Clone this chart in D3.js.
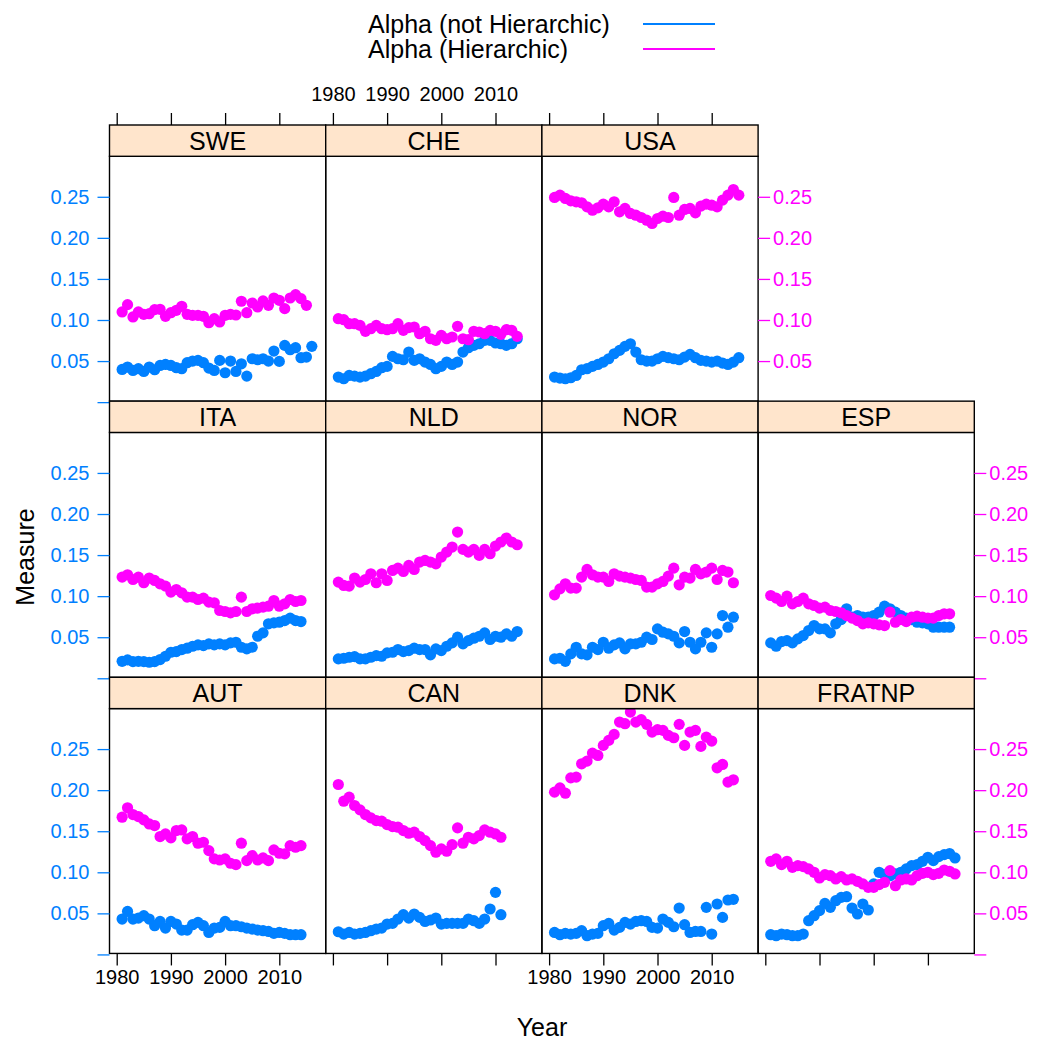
<!DOCTYPE html>
<html>
<head>
<meta charset="utf-8">
<script src="https://cdn.jsdelivr.net/npm/d3@7"></script>
<style>
  body { margin: 0; background: #fff; }
  svg { display: block; }
  text { font-family: "Liberation Sans", Arial, Helvetica, sans-serif; }
</style>
</head>
<body>
<svg id="chart" width="1044" height="1040"></svg>
<script>
// ---- data: yearly alpha estimates per country, series start in 1981 ----
const startYear = 1981;
const seriesNames = ["Alpha (not Hierarchic)", "Alpha (Hierarchic)"];
const seriesColors = ["#0080ff", "#ff00ff"];
const xTicks = [1980, 1990, 2000, 2010];
const yTicks = [0, 0.05, 0.10, 0.15, 0.20, 0.25];

// panel grid, top row first
const layoutRows = [
  ["SWE", "CHE", "USA"],
  ["ITA", "NLD", "NOR", "ESP"],
  ["AUT", "CAN", "DNK", "FRATNP"]
];

const sweNotHier = [0.0398,0.0427,0.0386,0.0407,0.0374,0.0427,0.0394,0.0447,0.0459,0.0447,0.0419,0.0407,0.0480,0.0500,0.0508,0.0480,0.0415,0.0386,0.0508,0.0358,0.0500,0.0374,0.0467,0.0317,0.0528,0.0516,0.0528,0.0500,0.0622,0.0496,0.0691,0.0638,0.0663,0.0541,0.0549,0.0679];
const sweHier = [0.1098,0.1187,0.1037,0.1098,0.1069,0.1077,0.1126,0.1130,0.1045,0.1089,0.1118,0.1167,0.1069,0.1057,0.1057,0.1045,0.0967,0.1016,0.0976,0.1057,0.1069,0.1061,0.1228,0.1089,0.1207,0.1159,0.1232,0.1179,0.1268,0.1240,0.1138,0.1268,0.1309,0.1260,0.1179];

const cheNotHier = [0.0305,0.0285,0.0325,0.0317,0.0305,0.0317,0.0346,0.0374,0.0419,0.0435,0.0557,0.0528,0.0516,0.0610,0.0508,0.0528,0.0488,0.0459,0.0407,0.0435,0.0488,0.0459,0.0488,0.0610,0.0663,0.0691,0.0711,0.0752,0.0752,0.0720,0.0711,0.0691,0.0711,0.0772];
const cheHier = [0.1016,0.1004,0.0955,0.0955,0.0935,0.0862,0.0894,0.0935,0.0894,0.0882,0.0894,0.0955,0.0874,0.0907,0.0915,0.0833,0.0862,0.0772,0.0752,0.0813,0.0772,0.0793,0.0923,0.0772,0.0760,0.0862,0.0854,0.0833,0.0874,0.0862,0.0825,0.0882,0.0874,0.0801];

const usaNotHier = [0.0305,0.0293,0.0285,0.0297,0.0325,0.0394,0.0407,0.0435,0.0459,0.0488,0.0528,0.0589,0.0630,0.0679,0.0711,0.0610,0.0516,0.0500,0.0500,0.0528,0.0557,0.0541,0.0528,0.0516,0.0549,0.0581,0.0541,0.0508,0.0500,0.0488,0.0500,0.0476,0.0459,0.0488,0.0541];
const usaHier = [0.2492,0.2520,0.2480,0.2451,0.2439,0.2427,0.2378,0.2337,0.2366,0.2411,0.2378,0.2439,0.2317,0.2358,0.2297,0.2276,0.2248,0.2215,0.2175,0.2236,0.2264,0.2248,0.2492,0.2276,0.2346,0.2358,0.2305,0.2386,0.2411,0.2398,0.2378,0.2459,0.2520,0.2589,0.2520];

const itaNotHier = [0.0207,0.0224,0.0203,0.0207,0.0203,0.0195,0.0203,0.0228,0.0268,0.0317,0.0325,0.0350,0.0366,0.0390,0.0407,0.0398,0.0419,0.0407,0.0419,0.0407,0.0431,0.0439,0.0378,0.0358,0.0378,0.0512,0.0553,0.0663,0.0675,0.0683,0.0703,0.0732,0.0703,0.0691];
const itaHier = [0.1232,0.1260,0.1203,0.1232,0.1163,0.1220,0.1191,0.1150,0.1122,0.1049,0.1081,0.1041,0.0988,0.0988,0.0959,0.0976,0.0927,0.0919,0.0825,0.0813,0.0797,0.0813,0.0988,0.0813,0.0846,0.0854,0.0866,0.0878,0.0947,0.0878,0.0907,0.0959,0.0935,0.0947];

const nldNotHier = [0.0236,0.0244,0.0256,0.0264,0.0236,0.0236,0.0256,0.0276,0.0268,0.0309,0.0317,0.0350,0.0325,0.0337,0.0366,0.0350,0.0350,0.0285,0.0358,0.0337,0.0390,0.0431,0.0500,0.0419,0.0459,0.0488,0.0512,0.0553,0.0472,0.0512,0.0500,0.0541,0.0512,0.0569];
const nldHier = [0.1171,0.1130,0.1122,0.1220,0.1171,0.1203,0.1272,0.1163,0.1272,0.1191,0.1313,0.1341,0.1301,0.1374,0.1325,0.1415,0.1435,0.1415,0.1394,0.1476,0.1537,0.1598,0.1780,0.1569,0.1537,0.1569,0.1496,0.1569,0.1516,0.1610,0.1659,0.1707,0.1659,0.1626];

const norNotHier = [0.0236,0.0244,0.0207,0.0297,0.0378,0.0297,0.0285,0.0378,0.0350,0.0439,0.0366,0.0407,0.0431,0.0358,0.0419,0.0419,0.0439,0.0500,0.0472,0.0602,0.0561,0.0541,0.0512,0.0431,0.0569,0.0439,0.0358,0.0439,0.0553,0.0378,0.0541,0.0764,0.0622,0.0744];
const norHier = [0.1016,0.1089,0.1150,0.1098,0.1098,0.1232,0.1325,0.1260,0.1232,0.1232,0.1179,0.1272,0.1244,0.1232,0.1220,0.1203,0.1191,0.1110,0.1110,0.1150,0.1179,0.1244,0.1341,0.1138,0.1232,0.1220,0.1325,0.1272,0.1293,0.1341,0.1203,0.1313,0.1293,0.1163];

const espNotHier = [0.0431,0.0390,0.0447,0.0459,0.0431,0.0480,0.0520,0.0581,0.0642,0.0602,0.0602,0.0553,0.0663,0.0715,0.0846,0.0744,0.0764,0.0744,0.0744,0.0764,0.0805,0.0878,0.0846,0.0805,0.0764,0.0732,0.0715,0.0683,0.0675,0.0663,0.0622,0.0622,0.0622,0.0622];
const espHier = [0.1008,0.0976,0.0935,0.1000,0.0907,0.0935,0.0976,0.0907,0.0886,0.0854,0.0866,0.0825,0.0813,0.0797,0.0764,0.0732,0.0703,0.0663,0.0675,0.0663,0.0650,0.0642,0.0805,0.0683,0.0715,0.0691,0.0744,0.0756,0.0744,0.0732,0.0732,0.0764,0.0785,0.0785];

const autNotHier = [0.0431,0.0524,0.0431,0.0443,0.0472,0.0431,0.0350,0.0402,0.0321,0.0402,0.0370,0.0297,0.0297,0.0362,0.0390,0.0350,0.0268,0.0321,0.0329,0.0402,0.0350,0.0350,0.0337,0.0321,0.0309,0.0297,0.0289,0.0280,0.0256,0.0268,0.0256,0.0240,0.0240,0.0240];
const autHier = [0.1671,0.1785,0.1703,0.1679,0.1638,0.1589,0.1569,0.1435,0.1467,0.1419,0.1508,0.1516,0.1407,0.1435,0.1354,0.1366,0.1264,0.1163,0.1150,0.1163,0.1110,0.1093,0.1354,0.1142,0.1203,0.1150,0.1175,0.1142,0.1272,0.1232,0.1224,0.1325,0.1305,0.1325];

const canNotHier = [0.0276,0.0248,0.0268,0.0248,0.0256,0.0268,0.0289,0.0309,0.0321,0.0370,0.0378,0.0431,0.0484,0.0443,0.0492,0.0451,0.0402,0.0419,0.0443,0.0370,0.0378,0.0378,0.0378,0.0378,0.0431,0.0411,0.0378,0.0431,0.0553,0.0756,0.0484];
const canHier = [0.2069,0.1866,0.1915,0.1813,0.1760,0.1703,0.1663,0.1630,0.1622,0.1581,0.1557,0.1549,0.1508,0.1476,0.1488,0.1435,0.1386,0.1325,0.1244,0.1285,0.1256,0.1337,0.1541,0.1354,0.1427,0.1407,0.1447,0.1516,0.1488,0.1467,0.1427];

const dnkNotHier = [0.0268,0.0240,0.0256,0.0248,0.0256,0.0289,0.0228,0.0248,0.0256,0.0350,0.0378,0.0297,0.0329,0.0390,0.0370,0.0402,0.0411,0.0402,0.0329,0.0321,0.0431,0.0390,0.0337,0.0565,0.0362,0.0268,0.0280,0.0280,0.0573,0.0248,0.0614,0.0451,0.0663,0.0671];
const dnkHier = [0.1976,0.2028,0.1963,0.2150,0.2159,0.2321,0.2354,0.2451,0.2423,0.2545,0.2606,0.2679,0.2829,0.2809,0.2951,0.2829,0.2858,0.2801,0.2707,0.2736,0.2728,0.2667,0.2638,0.2801,0.2545,0.2707,0.2728,0.2533,0.2646,0.2598,0.2272,0.2313,0.2098,0.2126];

const fraNotHier = [0.0240,0.0228,0.0248,0.0240,0.0228,0.0228,0.0248,0.0411,0.0472,0.0533,0.0622,0.0573,0.0654,0.0695,0.0703,0.0565,0.0492,0.0614,0.0541,0.0858,0.1000,0.0972,0.0959,0.0980,0.1000,0.1041,0.1081,0.1093,0.1134,0.1183,0.1142,0.1191,0.1215,0.1228,0.1175];
const fraHier = [0.1134,0.1163,0.1093,0.1134,0.1061,0.1081,0.1069,0.1041,0.1000,0.0931,0.0972,0.0959,0.0919,0.0947,0.0907,0.0919,0.0890,0.0858,0.0817,0.0817,0.0850,0.0878,0.1020,0.0837,0.0907,0.0919,0.0907,0.0959,0.0988,0.1000,0.0972,0.0988,0.1028,0.1012,0.0980];

const panelSeries = new Map([
  ["SWE", [sweNotHier, sweHier]], ["CHE", [cheNotHier, cheHier]], ["USA", [usaNotHier, usaHier]],
  ["ITA", [itaNotHier, itaHier]], ["NLD", [nldNotHier, nldHier]], ["NOR", [norNotHier, norHier]],
  ["ESP", [espNotHier, espHier]], ["AUT", [autNotHier, autHier]], ["CAN", [canNotHier, canHier]],
  ["DNK", [dnkNotHier, dnkHier]], ["FRATNP", [fraNotHier, fraHier]]
]);

// ---- layout ----
const svg = d3.select("#chart");
const FONT = "\"Liberation Sans\", Arial, Helvetica, sans-serif";
const colX0 = 109.5, colW = 216.2;
const rowTop0 = 125, rowPitch = 276.15, stripH = 31.3, panelH = 244.85;
const tickLen = 12, axisFont = 20;

const x = d3.scaleLinear().domain([1978.67, 2018.56]).range([0, colW]);
const y = d3.scaleLinear().domain([0.0012, 0.2993]).range([panelH, 0]);
const fmt = d => d === 0 ? "" : d3.format(".2f")(d);

svg.append("rect").attr("width", 1044).attr("height", 1040).attr("fill", "#fff");

function styleAxis(g, color) {
  g.select(".domain").remove();
  g.selectAll("line").attr("stroke", color).attr("stroke-width", 1.3);
  g.selectAll("text").attr("fill", color).attr("font-size", axisFont).attr("font-family", FONT);
  g.attr("font-family", FONT).attr("font-size", axisFont);
}

const nRows = layoutRows.length;
layoutRows.forEach((row, ri) => {
  const top = rowTop0 + ri * rowPitch;
  row.forEach((name, ci) => {
    const left = colX0 + ci * colW;
    const g = svg.append("g").attr("transform", `translate(${left},${top + stripH})`);
    const clipId = "clip-" + name;
    g.append("clipPath").attr("id", clipId)
      .append("rect").attr("width", colW).attr("height", panelH);

    // points: first series under, second over
    const pts = g.append("g").attr("clip-path", `url(#${clipId})`);
    panelSeries.get(name).forEach((vals, si) => {
      pts.append("g").selectAll("circle")
        .data(vals)
        .join("circle")
        .attr("cx", (d, i) => x(startYear + i))
        .attr("cy", d => y(d))
        .attr("r", 5.6)
        .attr("fill", seriesColors[si]);
    });

    // panel frame
    g.append("rect").attr("width", colW).attr("height", panelH)
      .attr("fill", "none").attr("stroke", "#000").attr("stroke-width", 1.4);

    // strip
    g.append("rect").attr("y", -stripH).attr("width", colW).attr("height", stripH)
      .attr("fill", "#ffe5cc").attr("stroke", "#000").attr("stroke-width", 1.4);
    g.append("text").attr("x", colW / 2).attr("y", -stripH / 2 + 9)
      .attr("text-anchor", "middle").attr("font-size", 25).attr("fill", "#000")
      .text(name);

    // left axis (first series scale)
    if (ci === 0) {
      g.append("g")
        .call(d3.axisLeft(y).tickValues(yTicks).tickSize(tickLen).tickPadding(8).tickFormat(fmt))
        .call(s => styleAxis(s, seriesColors[0]));
    }
    // right axis (second series scale) on the last panel of the row
    if (ci === row.length - 1) {
      g.append("g").attr("transform", `translate(${colW},0)`)
        .call(d3.axisRight(y).tickValues(yTicks).tickSize(tickLen).tickPadding(3).tickFormat(fmt))
        .call(s => styleAxis(s, seriesColors[1]));
    }
    // top axis on top row, labels on the middle column only
    if (ri === 0) {
      g.append("g").attr("transform", `translate(0,${-stripH})`)
        .call(d3.axisTop(x).tickValues(xTicks).tickSize(tickLen).tickPadding(12)
          .tickFormat(ci === 1 ? d3.format("d") : () => ""))
        .call(s => styleAxis(s, "#000"));
    }
    // bottom axis on bottom row, labels alternate
    if (ri === nRows - 1) {
      g.append("g").attr("transform", `translate(0,${panelH})`)
        .call(d3.axisBottom(x).tickValues(xTicks).tickSize(tickLen).tickPadding(4)
          .tickFormat(ci % 2 === 0 ? d3.format("d") : () => ""))
        .call(s => styleAxis(s, "#000"));
    }
  });
});

// axis titles
svg.append("text").attr("x", 542).attr("y", 1036).attr("text-anchor", "middle")
  .attr("font-size", 25).attr("fill", "#000").text("Year");
svg.append("text").attr("transform", "translate(34,557) rotate(-90)")
  .attr("text-anchor", "middle").attr("font-size", 25).attr("fill", "#000").text("Measure");

// legend
const legend = svg.append("g");
seriesNames.forEach((nm, i) => {
  const ly = 24 + i * 25;
  legend.append("text").attr("x", 368).attr("y", ly + 8.5)
    .attr("font-size", 25).attr("fill", "#000").text(nm);
  legend.append("line").attr("x1", 643).attr("x2", 715).attr("y1", ly).attr("y2", ly)
    .attr("stroke", seriesColors[i]).attr("stroke-width", 2);
});
</script>
</body>
</html>
